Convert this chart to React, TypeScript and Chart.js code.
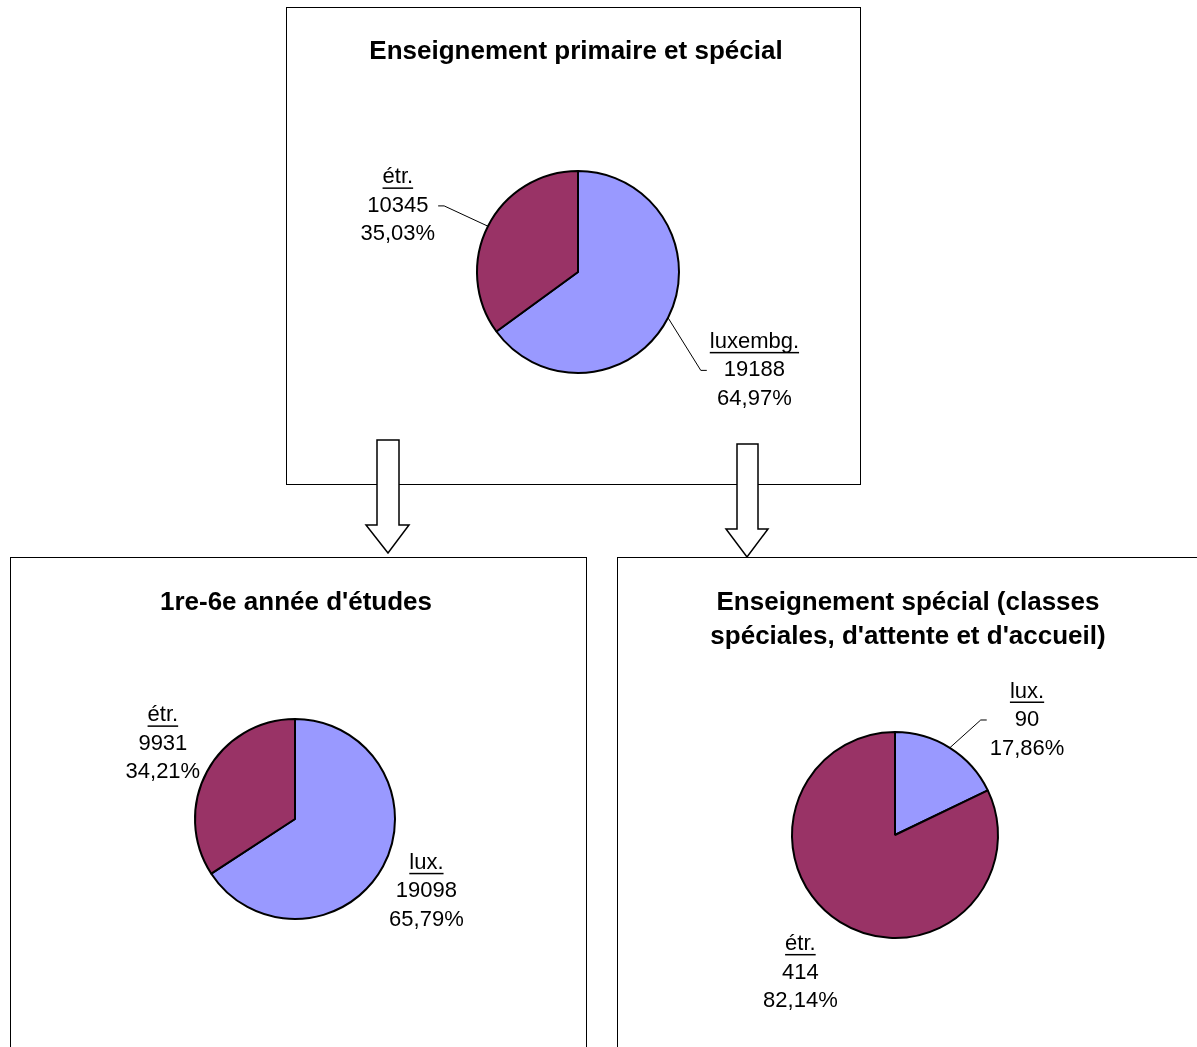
import React, { useEffect, useRef } from "react";
import { Chart, registerables } from "chart.js";

Chart.register(...registerables);

const FONT = "'Liberation Sans', Arial, Helvetica, sans-serif";

// ---- data ----
const PRIMARY_TITLE = ["Enseignement primaire et spécial"];
const PRIMARY_CATEGORIES = ["luxembg.", "étr."];
const PRIMARY_VALUES = [19188, 10345];

const GRADES_TITLE = ["1re-6e année d'études"];
const GRADES_CATEGORIES = ["lux.", "étr."];
const GRADES_VALUES = [19098, 9931];

const SPECIAL_TITLE = ["Enseignement spécial (classes", "spéciales, d'attente et d'accueil)"];
const SPECIAL_CATEGORIES = ["lux.", "étr."];
const SPECIAL_VALUES = [90, 414];

const SLICE_COLORS = ["#9999FF", "#993366"];

type Placement = { dist: number; turn: number; leader: boolean };

type PanelSpec = {
  left: number;
  top: number;
  width: number;
  height: number;
  cx: number; // pie centre inside the panel
  cy: number;
  radius: number;
  titleX: number;
  titleY: number;
  title: string[];
  labels: string[];
  values: number[];
  placements: Placement[];
};

const TITLE_SIZE = 26;
const TITLE_LINE = 34;
const LABEL_SIZE = 22;
const LABEL_LINE = 28.5;

function pct(v: number, total: number) {
  return (Math.round((v / total) * 10000) / 100).toFixed(2).replace(".", ",") + "%";
}

function makePanelPlugin(spec: PanelSpec) {
  return {
    id: "panelText",
    afterDatasetsDraw(chart: any) {
      const ctx: CanvasRenderingContext2D = chart.ctx;
      const meta = chart.getDatasetMeta(0);
      const values = chart.data.datasets[0].data as number[];
      const total = values.reduce((a, b) => a + b, 0);
      ctx.save();
      ctx.fillStyle = "#000";
      ctx.strokeStyle = "#000";
      ctx.textAlign = "center";
      ctx.textBaseline = "middle";
      ctx.font = `bold ${TITLE_SIZE}px ${FONT}`;
      spec.title.forEach((line, i) => ctx.fillText(line, spec.titleX, spec.titleY + i * TITLE_LINE));

      ctx.font = `${LABEL_SIZE}px ${FONT}`;
      meta.data.forEach((arc: any, i: number) => {
        const p = arc.getProps(["x", "y", "startAngle", "endAngle", "outerRadius"], true);
        const mid = (p.startAngle + p.endAngle) / 2;
        const place = spec.placements[i];
        const a = mid + (place.turn * Math.PI) / 180;
        const lx = p.x + Math.cos(a) * p.outerRadius * place.dist;
        const ly = p.y + Math.sin(a) * p.outerRadius * place.dist;
        const lines = [String(chart.data.labels[i]), String(values[i]), pct(values[i], total)];
        const widths = lines.map((l) => ctx.measureText(l).width);
        lines.forEach((l, k) => ctx.fillText(l, lx, ly + (k - 1) * LABEL_LINE));
        // underline the category name
        ctx.fillRect(lx - widths[0] / 2, ly - LABEL_LINE + 10, widths[0], 1.5);
        if (place.leader) {
          const maxW = Math.max(...widths);
          const right = lx > p.x;
          const ax = right ? lx - maxW / 2 - 3 : lx + maxW / 2 + 3;
          const tx = right ? ax - 6 : ax + 6;
          const ex = p.x + Math.cos(mid) * p.outerRadius;
          const ey = p.y + Math.sin(mid) * p.outerRadius;
          ctx.lineWidth = 1;
          ctx.beginPath();
          ctx.moveTo(ax, ly);
          ctx.lineTo(tx, ly);
          ctx.lineTo(ex, ey);
          ctx.stroke();
        }
      });
      ctx.restore();
    },
  };
}

function PiePanel({ spec }: { spec: PanelSpec }) {
  const ref = useRef<HTMLCanvasElement | null>(null);
  const w = spec.width - 2;
  const h = spec.height - 2;
  useEffect(() => {
    if (!ref.current) return;
    const half = 120;
    const chart = new Chart(ref.current, {
      type: "pie",
      data: {
        labels: spec.labels,
        datasets: [
          {
            data: spec.values,
            backgroundColor: SLICE_COLORS,
            borderColor: "#000000",
            borderWidth: 2,
            radius: spec.radius,
            hoverOffset: 0,
          } as any,
        ],
      },
      options: {
        responsive: false,
        animation: false,
        events: [],
        layout: {
          padding: {
            left: spec.cx - half,
            right: w - spec.cx - half,
            top: spec.cy - half,
            bottom: h - spec.cy - half,
          },
        },
        plugins: {
          legend: { display: false },
          tooltip: { enabled: false },
          title: { display: false },
        },
      },
      plugins: [makePanelPlugin(spec)],
    });
    return () => chart.destroy();
  }, [spec]);
  return (
    <div
      style={{
        position: "absolute",
        left: spec.left,
        top: spec.top,
        width: spec.width,
        height: spec.height,
        boxSizing: "border-box",
        border: "1px solid #000",
        background: "#fff",
      }}
    >
      <canvas ref={ref} width={w} height={h} style={{ position: "absolute", left: 0, top: 0 }} />
    </div>
  );
}

const PANELS: PanelSpec[] = [
  {
    left: 286, top: 7, width: 575, height: 478,
    cx: 291, cy: 264, radius: 101,
    titleX: 289, titleY: 44,
    title: PRIMARY_TITLE, labels: PRIMARY_CATEGORIES, values: PRIMARY_VALUES,
    placements: [
      { dist: 2.0, turn: 2.2, leader: true },
      { dist: 1.9, turn: -6.8, leader: true },
    ],
  },
  {
    left: 10, top: 557, width: 577, height: 520,
    cx: 284, cy: 261, radius: 100,
    titleX: 285, titleY: 45,
    title: GRADES_TITLE, labels: GRADES_CATEGORIES, values: GRADES_VALUES,
    placements: [
      { dist: 1.5, turn: 0.4, leader: false },
      { dist: 1.52, turn: 1.2, leader: false },
    ],
  },
  {
    left: 617, top: 557, width: 600, height: 520,
    cx: 277, cy: 277, radius: 103,
    titleX: 290, titleY: 45,
    title: SPECIAL_TITLE, labels: SPECIAL_CATEGORIES, values: SPECIAL_VALUES,
    placements: [
      { dist: 1.7, turn: 16.8, leader: true },
      { dist: 1.62, turn: 2.4, leader: false },
    ],
  },
];

function Arrows() {
  return (
    <svg
      width={1197}
      height={1047}
      style={{ position: "absolute", left: 0, top: 0, pointerEvents: "none" }}
    >
      <polygon
        points="377,440 399,440 399,525 409,525 388,553 366,525 377,525"
        fill="#fff"
        stroke="#000"
        strokeWidth={1.5}
      />
      <polygon
        points="737,444 758,444 758,529 768,529 747,557 726,529 737,529"
        fill="#fff"
        stroke="#000"
        strokeWidth={1.5}
      />
    </svg>
  );
}

export default function App() {
  return (
    <div
      style={{
        position: "absolute",
        left: 0,
        top: 0,
        width: 1197,
        height: 1047,
        overflow: "hidden",
        background: "#fff",
        fontFamily: FONT,
      }}
    >
      {PANELS.map((p, i) => (
        <PiePanel key={i} spec={p} />
      ))}
      <Arrows />
    </div>
  );
}
